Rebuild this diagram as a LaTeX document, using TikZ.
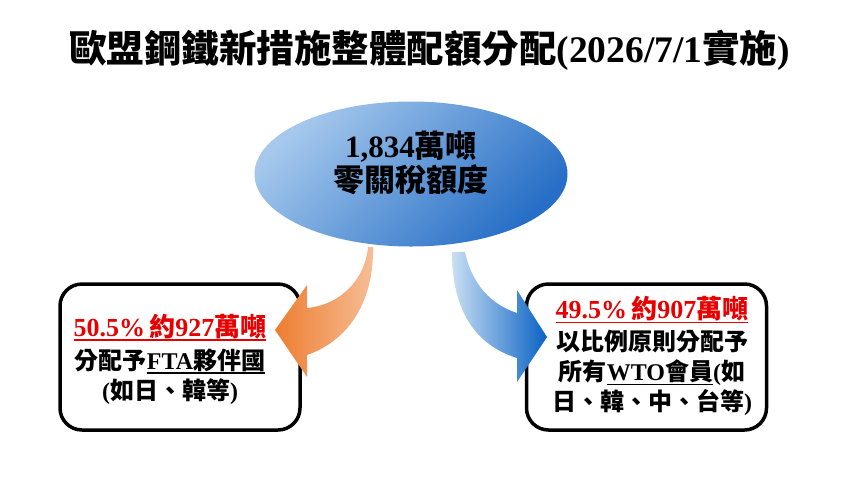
\documentclass[tikz,border=0pt]{standalone}
\usepackage{fontspec}
\setmainfont{Liberation Serif}
\newfontfamily\cjk{Noto Sans CJK TC}
\usetikzlibrary{shapes.geometric}
\definecolor{elL}{RGB}{165,200,236}
\definecolor{elD}{RGB}{38,110,198}
\definecolor{orD}{RGB}{237,125,49}
\definecolor{orL}{RGB}{246,190,150}
\definecolor{blL}{RGB}{200,222,243}
\definecolor{blD}{RGB}{10,98,196}
\definecolor{redT}{RGB}{232,0,0}
\newsavebox\ulbox
\newcommand\ulin[2]{\sbox\ulbox{#2}\rlap{\color{#1}\rule[-4.5pt]{\wd\ulbox}{1.4pt}}\usebox\ulbox}
\newcommand\zh[1]{{\cjk #1}}
\begin{document}
\begin{tikzpicture}[x=1pt,y=-1pt,
  box/.style={draw=black, line width=3.5pt, rounded corners=22pt,
    minimum width=240pt, minimum height=146pt, fill=white},
  boxtext/.style={align=center, inner sep=0pt,
    font=\bfseries\fontsize{24}{30}\selectfont},
  redhead/.style={}]
\fill[white] (0,0) rectangle (848,491);
\useasboundingbox (0,0) rectangle (848,491);

% title
\node[font=\bfseries\fontsize{37.5}{40}\selectfont, inner sep=0pt] (title) at (429.5,50)
  {{\fontsize{37.5}{40}\selectfont\zh{歐盟鋼鐵新措施整體配額分配}}(2026/7/1{\fontsize{37.5}{40}\selectfont\zh{實施}})};

% top ellipse
\node[ellipse, inner sep=0pt, minimum width=313pt, minimum height=145pt,
  top color=elL, bottom color=elD, shading angle=45] (pool) at (411,174) {};
\node[align=center, inner sep=0pt, font=\bfseries\fontsize{31}{34}\selectfont] (poolt) at (411,163)
  {1,834\zh{萬噸}\\\zh{零關稅額度}};

% boxes
\node[box] (fta) at (180,357) {};
\node[box] (wto) at (646.5,357) {};

\node[boxtext] (ftat) at (170,359)
  {{\fontsize{26}{30}\selectfont\color{redT}\ulin{redT}{50.5\%\,\zh{約}927\zh{萬噸}}}\\[3pt]
   \zh{分配予}\ulin{black}{FTA\zh{夥伴國}}\\
   (\zh{如日、韓等})};

\node[boxtext] (wtot) at (652,356)
  {{\fontsize{26}{30}\selectfont\color{redT}\ulin{redT}{49.5\%\,\zh{約}907\zh{萬噸}}}\\[2pt]
   \zh{以比例原則分配予}\\
   \zh{所有}\ulin{black}{WTO\zh{會員}}(\zh{如}\\
   \zh{日、韓、中、台等})};

% curved block arrows
\shade[left color=orD, right color=orL]
  (368,247) .. controls (365,280) and (340,305) .. (307,308)
  -- (307,285) -- (275,330) -- (307,377) -- (307,355)
  .. controls (350,340) and (374,300) .. (373,247) -- cycle;
\shade[left color=blL, right color=blD]
  (465,252) .. controls (472,285) and (492,305) .. (517,313)
  -- (517,290) -- (547,337) -- (517,382) -- (517,358)
  .. controls (475,345) and (452,310) .. (452,252) -- cycle;
\end{tikzpicture}
\end{document}
